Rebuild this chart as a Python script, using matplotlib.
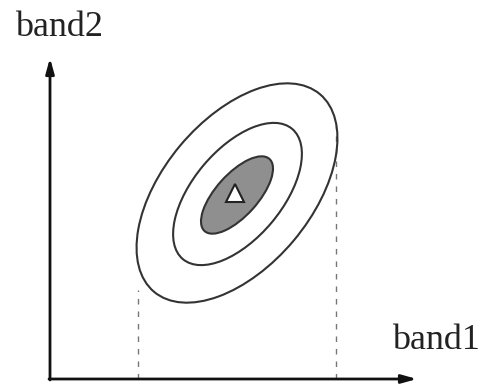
import matplotlib.pyplot as plt
from matplotlib.patches import Ellipse

# contour ellipses (pixel units, y up): outer, middle, inner
ell_cx = [237, 237.5, 237]
ell_cy = [195, 194, 193]
ell_w = [258, 170, 97]
ell_h = [148, 89, 42]
ell_ang = [50, 50, 48]
ell_fill = [False, False, True]

# class mean marker
mean_x = [235.5]
mean_y = [195.5]

# projection lines onto band1
proj_x = [138, 336]
proj_top = [98, 263]

origin = (50, 9)
x_end = 417
y_end = 330

fig = plt.figure(figsize=(4.81, 3.88), dpi=100)
ax = fig.add_axes([0, 0, 1, 1])
ax.set_xlim(0, 481)
ax.set_ylim(0, 388)
ax.axis('off')

line_c = '#333333'

for i in range(len(ell_cx)):
    e = Ellipse((ell_cx[i], ell_cy[i]), ell_w[i], ell_h[i], angle=ell_ang[i],
                facecolor='#8f8f8f' if ell_fill[i] else 'none',
                edgecolor=line_c, lw=1.5, zorder=2)
    ax.add_patch(e)

ax.plot(mean_x, mean_y, marker='^', markersize=13.5, color='white',
        markeredgecolor='#222222', markeredgewidth=1.5, zorder=3)

for px, pt in zip(proj_x, proj_top):
    ax.plot([px, px], [origin[1], pt], color='#777777', lw=1.0,
            linestyle=(0, (4, 5)), zorder=1)

arrow = dict(arrowstyle='-|>,head_length=0.9,head_width=0.25', color='#111111',
             lw=2, shrinkA=0, shrinkB=0)
ax.annotate('', xy=(x_end, origin[1]), xytext=(origin[0] - 1, origin[1]),
            arrowprops=arrow)
ax.annotate('', xy=(origin[0], y_end), xytext=(origin[0], origin[1] - 1),
            arrowprops=arrow)

ax.text(15, 352, 'band2', fontsize=26, family='Liberation Serif',
        va='baseline', ha='left', color='#222222')
ax.text(392, 39, 'band1', fontsize=26, family='Liberation Serif',
        va='baseline', ha='left', color='#222222')

fig.savefig('out.png', dpi=100)
